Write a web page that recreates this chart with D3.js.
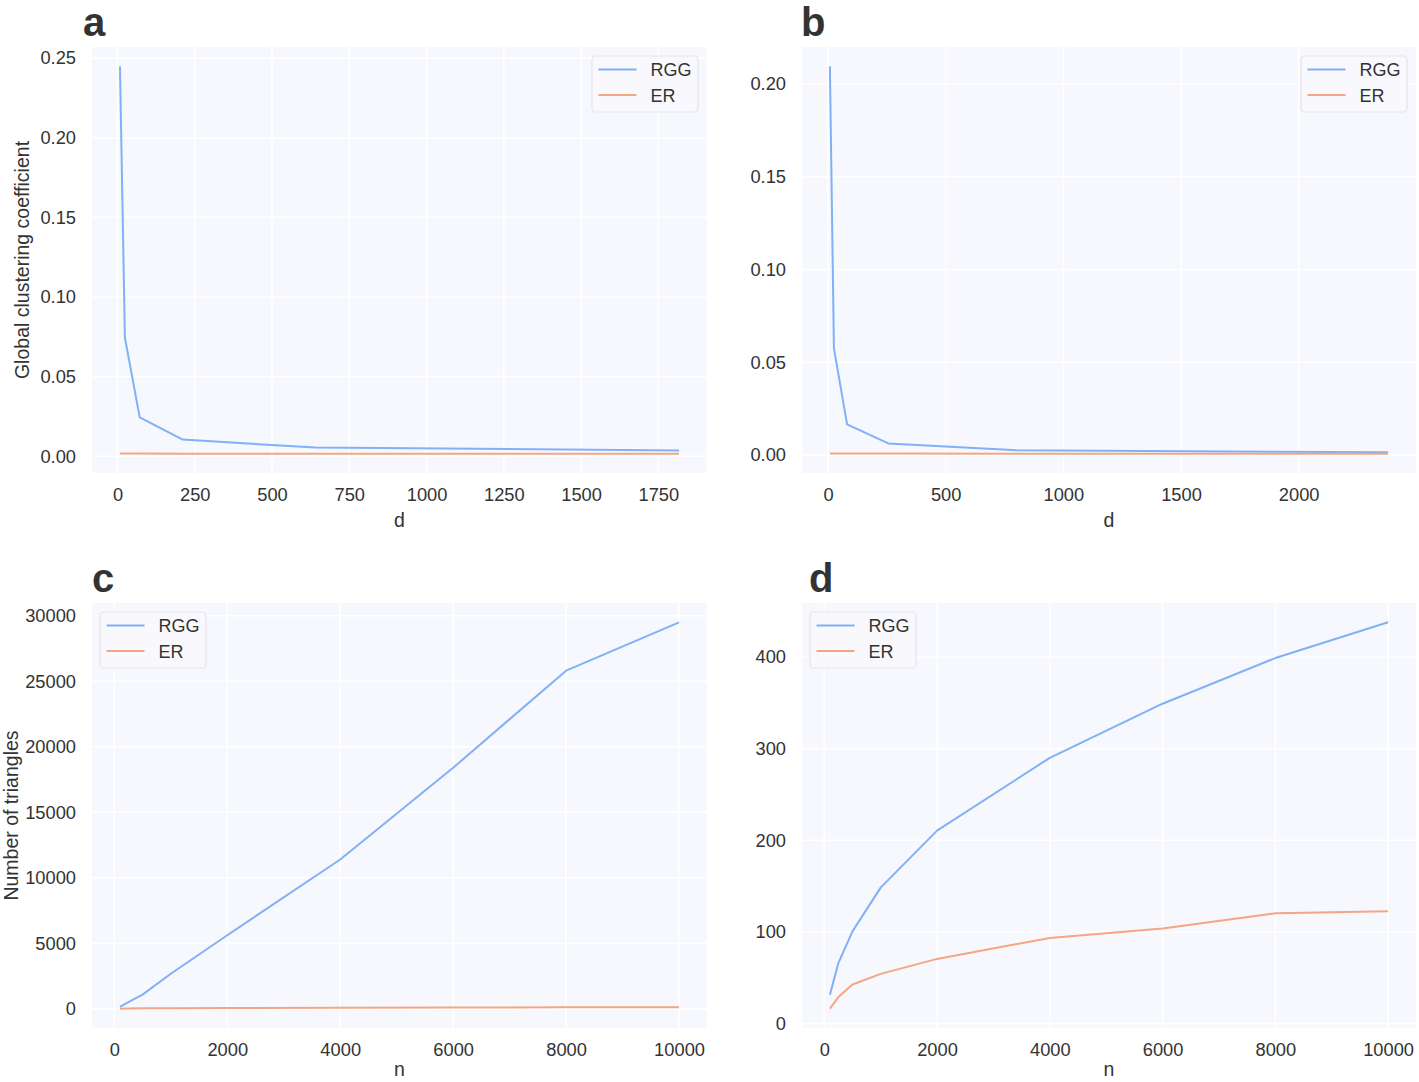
<!DOCTYPE html>
<html><head><meta charset="utf-8">
<script src="https://cdn.jsdelivr.net/npm/d3@7"></script>
<style>
html,body{margin:0;padding:0;background:#fff;}
text{font-family:"Liberation Sans",Arial,Helvetica,sans-serif;fill:#333;}
</style></head>
<body><svg id="chart" width="1419" height="1082"></svg>
<script>
// ---- data ----
const dA = [8, 24, 72, 211, 640, 1817];
const rggA = [0.2448, 0.0744, 0.0244, 0.0104, 0.0054, 0.0036];
const erA = [0.0017, 0.0017, 0.0017, 0.0016, 0.0016, 0.0016];

const dB = [8, 25, 81, 256, 803, 2380];
const rggB = [0.2095, 0.0577, 0.0166, 0.0063, 0.0026, 0.0015];
const erB = [0.0009, 0.0009, 0.0009, 0.0009, 0.0008, 0.0008];

const nC = [100, 250, 500, 1000, 2000, 4000, 6000, 8000, 10000];
const rggC = [150, 520, 1090, 2680, 5620, 11400, 18400, 25810, 29500];
const erC = [16, 29, 43, 54, 71, 94, 104, 120, 123];

const nD = [100, 250, 500, 1000, 2000, 4000, 6000, 8000, 10000];
const rggD = [31.5, 66, 100.6, 148.4, 210.6, 290, 349, 398.8, 437.8];
const erD = [16.3, 29, 42.7, 54.3, 70.6, 93.5, 103.7, 120.4, 122.6];

const xTicksA = [0, 250, 500, 750, 1000, 1250, 1500, 1750];
const yTicksA = [0, 0.05, 0.10, 0.15, 0.20, 0.25];
const xTicksB = [0, 500, 1000, 1500, 2000];
const yTicksB = [0, 0.05, 0.10, 0.15, 0.20];
const xTicksC = [0, 2000, 4000, 6000, 8000, 10000];
const yTicksC = [0, 5000, 10000, 15000, 20000, 25000, 30000];
const xTicksD = [0, 2000, 4000, 6000, 8000, 10000];
const yTicksD = [0, 100, 200, 300, 400];

const seriesNames = ["RGG", "ER"];
const colors = {RGG: "#82b0f6", ER: "#f4a682"};

const svg = d3.select("#chart");

function pad(ext) { const s = ext[1] - ext[0]; return [ext[0] - 0.05 * s, ext[1] + 0.05 * s]; }

function panel(cfg) {
  const {x0, y0, w, h, xs, ys, xTicks, yTicks, yFmt, letter, letterX, letterY, xLabel, xLabelY, yLabel, yLabelX, legendPos} = cfg;
  const g = svg.append("g").attr("transform", `translate(${x0},${y0})`);
  const allY = ys[0].concat(ys[1]);
  const x = d3.scaleLinear().domain(pad(d3.extent(xs))).range([0, w]);
  const y = d3.scaleLinear().domain(pad(d3.extent(allY))).range([h, 0]);

  g.append("rect").attr("width", w).attr("height", h).attr("fill", "#f7f8fd");

  // grid
  g.append("g").selectAll("line").data(xTicks).join("line")
    .attr("x1", d => x(d)).attr("x2", d => x(d)).attr("y1", 0).attr("y2", h)
    .attr("stroke", "#fff").attr("stroke-width", 1.6);
  g.append("g").selectAll("line").data(yTicks).join("line")
    .attr("y1", d => y(d)).attr("y2", d => y(d)).attr("x1", 0).attr("x2", w)
    .attr("stroke", "#fff").attr("stroke-width", 1.6);

  // axes (labels only)
  const xa = g.append("g").attr("transform", `translate(0,${h})`)
    .call(d3.axisBottom(x).tickValues(xTicks).tickSize(0).tickPadding(15).tickFormat(d3.format("d")));
  const ya = g.append("g")
    .call(d3.axisLeft(y).tickValues(yTicks).tickSize(0).tickPadding(16).tickFormat(yFmt));
  [xa, ya].forEach(a => {
    a.select(".domain").remove();
    a.selectAll("text").attr("font-size", 18.3).attr("fill", "#333")
      .attr("font-family", '"Liberation Sans",Arial,sans-serif');
  });

  // lines
  const line = d3.line().x(d => x(d[0])).y(d => y(d[1]));
  seriesNames.forEach((name, i) => {
    const pts = xs.map((v, k) => [v, ys[i][k]]);
    g.append("path").datum(pts).attr("d", line).attr("fill", "none")
      .attr("stroke", colors[name]).attr("stroke-width", 2).attr("stroke-linejoin", "round");
  });

  // legend
  const lw = 106, lh = 56;
  const lx = legendPos === "right" ? w - 9 - lw : 8;
  const lg = g.append("g").attr("transform", `translate(${lx},9)`);
  lg.append("rect").attr("width", lw).attr("height", lh).attr("rx", 4)
    .attr("fill", "#f9f9fd").attr("stroke", "#e3e5ea").attr("stroke-width", 1.2);
  seriesNames.forEach((name, i) => {
    const yy = 13.5 + i * 25.5;
    lg.append("line").attr("x1", 6.5).attr("x2", 44.5).attr("y1", yy).attr("y2", yy)
      .attr("stroke", colors[name]).attr("stroke-width", 2);
    lg.append("text").attr("x", 58.5).attr("y", yy + 6.5).attr("font-size", 18).text(name);
  });

  // axis labels
  g.append("text").attr("x", w / 2).attr("y", xLabelY - y0).attr("text-anchor", "middle")
    .attr("font-size", 19.5).text(xLabel);
  if (yLabel) {
    g.append("text").attr("transform", `translate(${yLabelX - x0},${h / 2}) rotate(-90)`)
      .attr("text-anchor", "middle").attr("font-size", 19.5).text(yLabel);
  }
  svg.append("text").attr("x", letterX).attr("y", letterY).attr("font-size", 40)
    .attr("font-weight", "bold").attr("fill", "#333").text(letter);
}

const f2 = d3.format(".2f");
panel({x0: 92, y0: 47, w: 615, h: 426, xs: dA, ys: [rggA, erA], xTicks: xTicksA, yTicks: yTicksA, yFmt: f2,
  letter: "a", letterX: 83, letterY: 36, xLabel: "d", xLabelY: 527, yLabel: "Global clustering coefficient", yLabelX: 29, legendPos: "right"});
panel({x0: 802, y0: 47, w: 614, h: 426, xs: dB, ys: [rggB, erB], xTicks: xTicksB, yTicks: yTicksB, yFmt: f2,
  letter: "b", letterX: 801, letterY: 36, xLabel: "d", xLabelY: 527, yLabel: null, legendPos: "right"});
panel({x0: 92, y0: 603, w: 615, h: 425, xs: nC, ys: [rggC, erC], xTicks: xTicksC, yTicks: yTicksC, yFmt: d3.format("d"),
  letter: "c", letterX: 92, letterY: 592, xLabel: "n", xLabelY: 1076, yLabel: "Number of triangles", yLabelX: 18, legendPos: "left"});
panel({x0: 802, y0: 603, w: 614, h: 425, xs: nD, ys: [rggD, erD], xTicks: xTicksD, yTicks: yTicksD, yFmt: d3.format("d"),
  letter: "d", letterX: 809, letterY: 592, xLabel: "n", xLabelY: 1076, yLabel: null, legendPos: "left"});
</script>
</body></html>
